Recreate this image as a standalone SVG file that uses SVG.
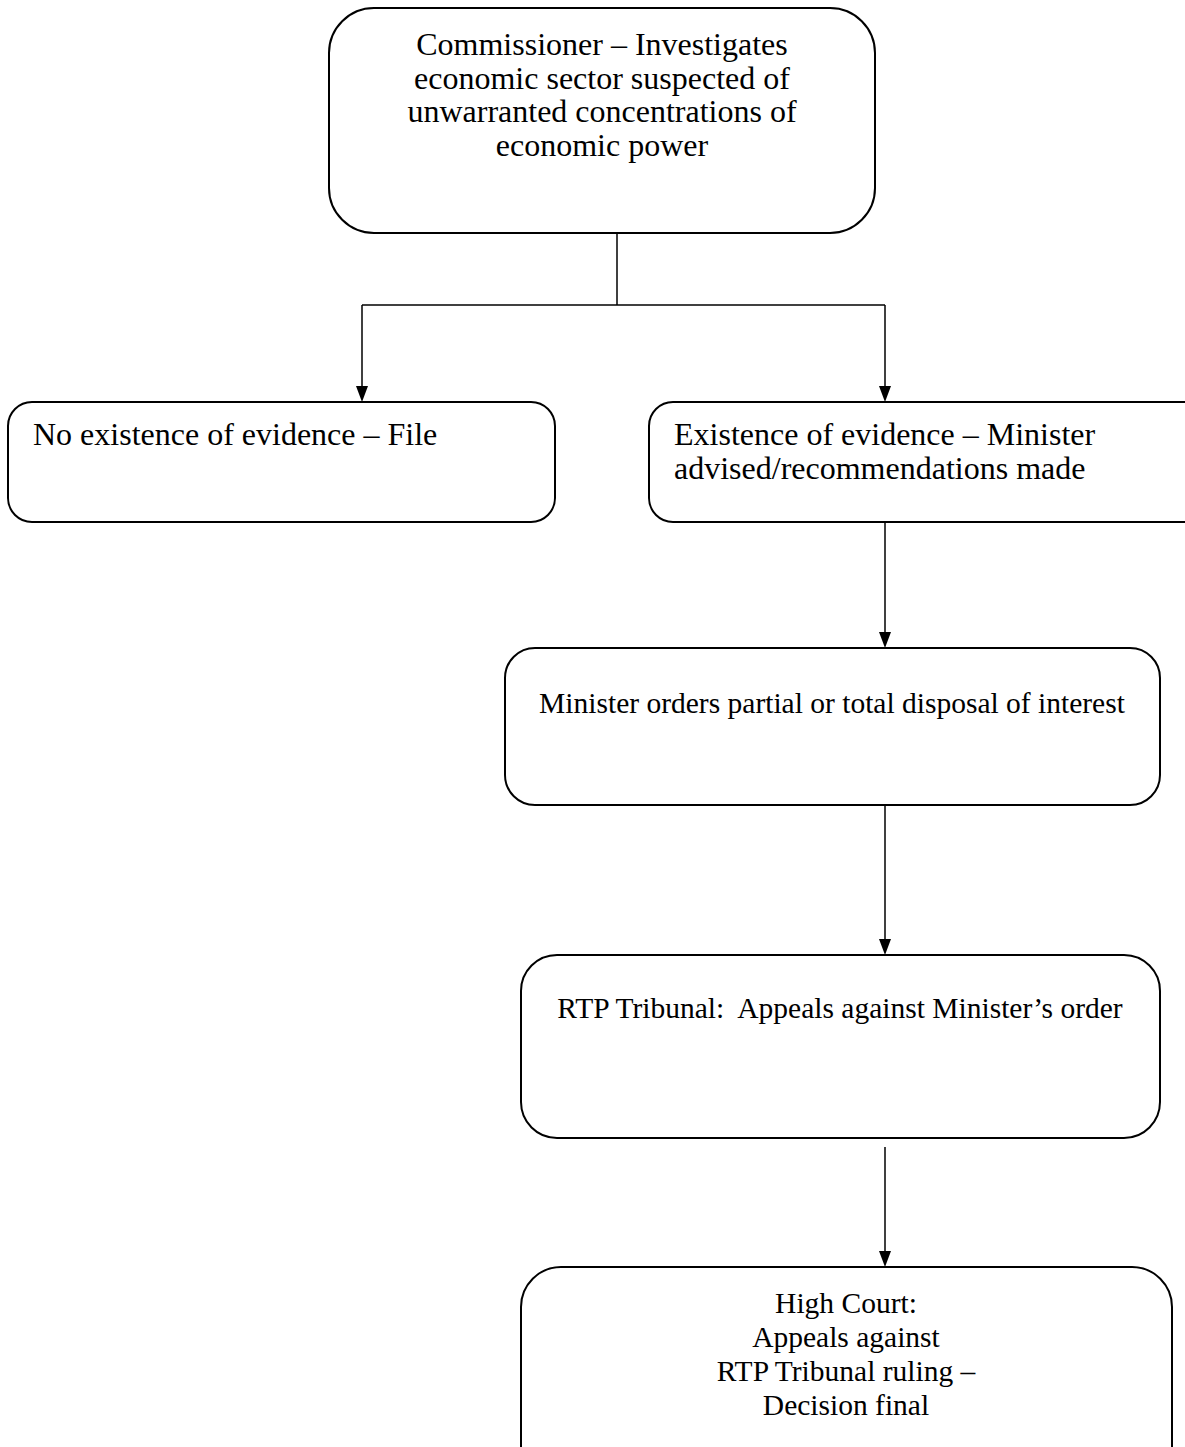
<svg xmlns="http://www.w3.org/2000/svg" width="1185" height="1447" viewBox="0 0 1185 1447">
<style>
.box{fill:#fff;stroke:#000;stroke-width:2}
.t{font-family:"Liberation Serif","Times New Roman",serif;font-size:32px;fill:#000}
.s{font-size:29.5px}
.c{text-anchor:middle}
.ln{fill:none;stroke:#000;stroke-width:1.5}
</style>
<g id="connectors">
<path class="ln" d="M617,233 V305"/>
<path class="ln" d="M362,305 H885"/>
<path class="ln" d="M362,305 V388"/>
<polygon points="356,386 368,386 362,402" fill="#000"/>
<path class="ln" d="M885,305 V388"/>
<polygon points="879,386 891,386 885,402" fill="#000"/>
<path class="ln" d="M885,522 V634"/>
<polygon points="879,632 891,632 885,648" fill="#000"/>
<path class="ln" d="M885,805 V941"/>
<polygon points="879,939 891,939 885,955" fill="#000"/>
<path class="ln" d="M885,1147 V1253"/>
<polygon points="879,1251 891,1251 885,1267" fill="#000"/>
</g>
<g id="n1">
<rect class="box" x="329" y="8" width="546" height="225" rx="45"/>
<text class="t c" x="602" y="55">Commissioner – Investigates</text>
<text class="t c" x="602" y="89">economic sector suspected of</text>
<text class="t c" x="602" y="122">unwarranted concentrations of</text>
<text class="t c" x="602" y="156">economic power</text>
</g>
<g id="n2">
<rect class="box" x="8" y="402" width="547" height="120" rx="24"/>
<text class="t" x="33" y="445">No existence of evidence – File</text>
</g>
<g id="n3">
<rect class="box" x="649" y="402" width="560" height="120" rx="24"/>
<text class="t" x="674" y="445">Existence of evidence – Minister</text>
<text class="t" x="674" y="479">advised/recommendations made</text>
</g>
<g id="n4">
<rect class="box" x="505" y="648" width="655" height="157" rx="30"/>
<text class="t s c" x="832" y="713">Minister orders partial or total disposal of interest</text>
</g>
<g id="n5">
<rect class="box" x="521" y="955" width="639" height="183" rx="36"/>
<text class="t s c" x="840" y="1018" xml:space="preserve">RTP Tribunal:  Appeals against Minister’s order</text>
</g>
<g id="n6">
<rect class="box" x="521" y="1267" width="651" height="220" rx="40"/>
<text class="t s c" x="846" y="1313">High Court:</text>
<text class="t s c" x="846" y="1347">Appeals against</text>
<text class="t s c" x="846" y="1381">RTP Tribunal ruling –</text>
<text class="t s c" x="846" y="1415">Decision final</text>
</g>
</svg>
